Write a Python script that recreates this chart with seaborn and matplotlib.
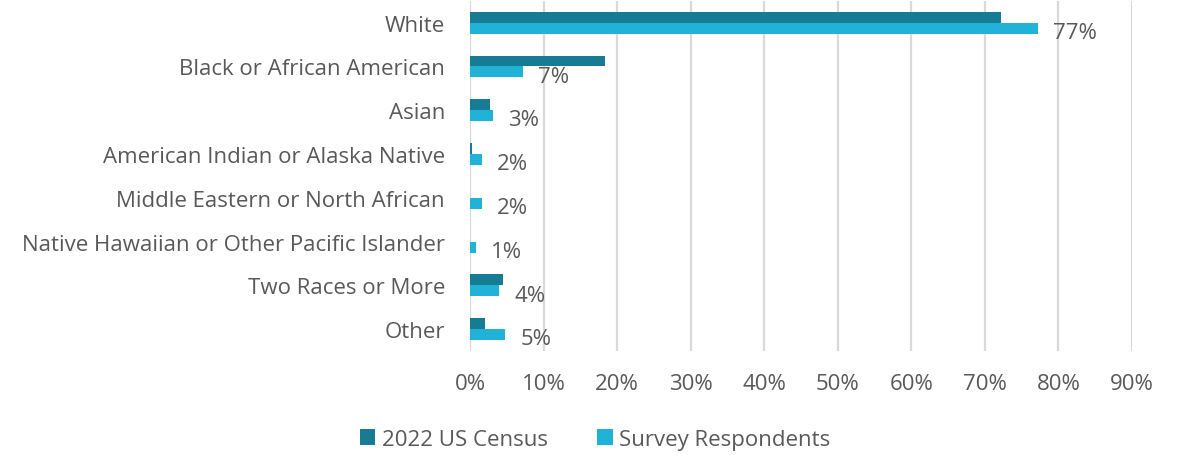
import matplotlib
matplotlib.use("Agg")
import matplotlib.pyplot as plt
import seaborn as sns
import pandas as pd
from matplotlib.ticker import PercentFormatter

categories = ["White", "Black or African American", "Asian",
              "American Indian or Alaska Native", "Middle Eastern or North African",
              "Native Hawaiian or Other Pacific Islander", "Two Races or More", "Other"]
census = [72.2, 18.3, 2.7, 0.3, 0.0, 0.0, 4.5, 2.1]
survey = [77.2, 7.2, 3.1, 1.6, 1.6, 0.8, 4.0, 4.8]
survey_labels = ["77%", "7%", "3%", "2%", "2%", "1%", "4%", "5%"]
series = ["2022 US Census", "Survey Respondents"]

df = pd.DataFrame({
    "category": categories * 2,
    "value": census + survey,
    "series": [series[0]] * len(categories) + [series[1]] * len(categories),
})

sns.set_style("white")
plt.rcParams["font.family"] = ["Open Sans", "DejaVu Sans"]
txt = "#595959"
fs = 16

fig, ax = plt.subplots(figsize=(11.81, 4.56), dpi=100)
fig.subplots_adjust(left=0.398, right=0.9585, top=0.996, bottom=0.228)

sns.barplot(data=df, y="category", x="value", hue="series", orient="h",
            palette=["#177b93", "#21b3d7"], width=0.5, saturation=1,
            linewidth=0, ax=ax, zorder=3)

# labels only on survey bars, nudged a bit below the bar centre
anns = ax.bar_label(ax.containers[1], labels=survey_labels, padding=11,
                    fontsize=fs, color=txt)
for a in anns:
    a.xyann = (11, -3)

ax.set_xlim(0, 90)
ax.set_xticks(range(0, 91, 10))
ax.xaxis.set_major_formatter(PercentFormatter(decimals=0))
ax.grid(axis="x", color="#d9d9d9", linewidth=1.6, zorder=0)
ax.set_axisbelow(True)
for s in ax.spines.values():
    s.set_visible(False)
ax.set_xlabel("")
ax.set_ylabel("")
ax.tick_params(axis="y", length=0, pad=18, labelsize=fs, labelcolor=txt)
ax.tick_params(axis="x", length=0, pad=16, labelsize=fs, labelcolor=txt)

ax.get_legend().remove()
handles, labels = ax.get_legend_handles_labels()
fig.legend(handles, labels, loc="center", bbox_to_anchor=(0.504, 0.035), ncol=2,
           frameon=False, fontsize=fs, labelcolor=txt, handlelength=0.7,
           handleheight=0.7, handletextpad=0.3, columnspacing=2.2,
           borderpad=0)

fig.savefig("out.png", dpi=100)
